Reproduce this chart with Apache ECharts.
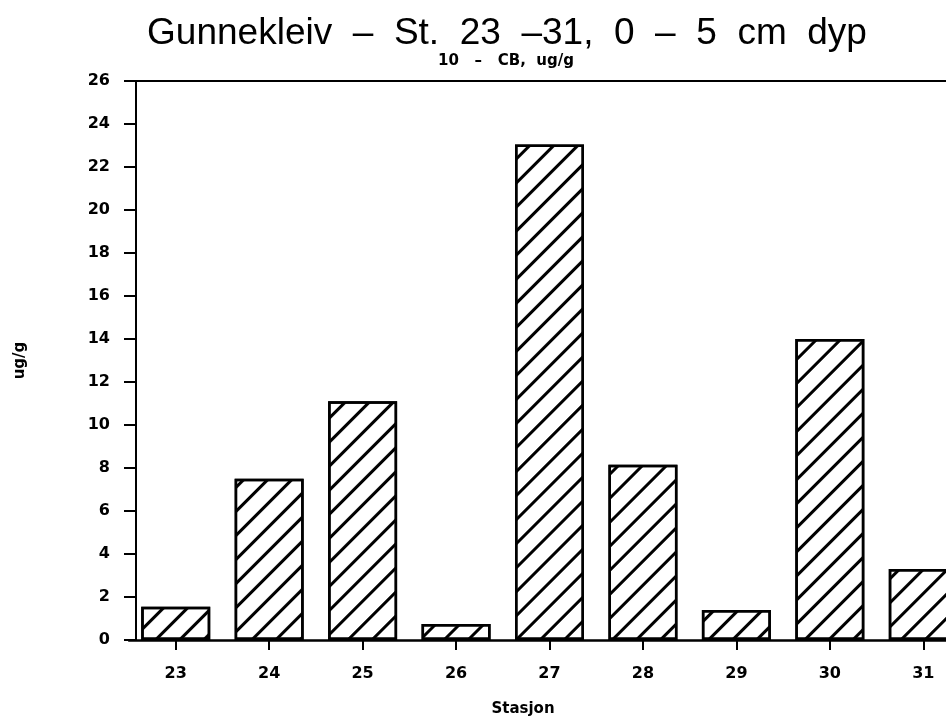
<!DOCTYPE html>
<html>
<head>
<meta charset="utf-8">
<script src="https://cdn.jsdelivr.net/npm/echarts@6/dist/echarts.min.js"></script>
<style>
  html, body { margin: 0; padding: 0; background: #ffffff; }
  #chart { width: 946px; height: 717px; }
</style>
</head>
<body>
<div id="chart"></div>
<script>
// Stations along the x axis and the measured 10-CB concentration (ug/g) at 0-5 cm depth
const stations = ['23', '24', '25', '26', '27', '28', '29', '30', '31'];
const cbValues = [1.55, 7.5, 11.1, 0.75, 23.05, 8.15, 1.4, 14.0, 3.3];

// Value axis range and step
const yMin = 0;
const yMax = 26;
const yStep = 2;

const mainTitle = 'Gunnekleiv  –  St.  23  –31,  0  –  5  cm  dyp';
const subTitle = '10   –   CB,  ug/g';
const xName = 'Stasjon';
const yName = 'ug/g';

const ink = '#000000';
const labelFont = { color: ink, fontFamily: 'DejaVu Sans', fontWeight: 'bold', fontSize: 16 };

const chart = echarts.init(document.getElementById('chart'), null, { renderer: 'canvas' });

chart.setOption({
  backgroundColor: '#ffffff',
  animation: false,
  title: [
    {
      text: mainTitle,
      left: 502, top: 10, textAlign: 'center',
      textStyle: { color: ink, fontFamily: 'Liberation Sans', fontWeight: 'normal', fontSize: 37 }
    },
    {
      text: subTitle,
      left: 501, top: 49, textAlign: 'center',
      textStyle: { color: ink, fontFamily: 'DejaVu Sans', fontWeight: 'bold', fontSize: 15 }
    },
    {
      text: xName,
      left: 518, top: 697, textAlign: 'center',
      textStyle: { color: ink, fontFamily: 'DejaVu Sans', fontWeight: 'bold', fontSize: 15 }
    }
  ],
  // the plot runs past the right edge of the page, so the last bar is cut
  grid: { left: 129, right: -24, top: 81, bottom: 77, outerBoundsMode: 'none', containLabel: false },
  xAxis: [
    {
      type: 'category',
      data: stations,
      boundaryGap: true,
      axisLine: { show: true, lineStyle: { color: ink, width: 2.5 } },
      axisTick: { show: true, alignWithLabel: true, length: 10, lineStyle: { color: ink, width: 2 } },
      axisLabel: Object.assign({ margin: 26 }, labelFont),
      splitLine: { show: false }
    },
    {
      // frame line along the top of the plot
      type: 'category',
      position: 'top',
      data: stations,
      axisLine: { show: true, lineStyle: { color: ink, width: 2 } },
      axisTick: { show: false },
      axisLabel: { show: false },
      splitLine: { show: false }
    }
  ],
  yAxis: {
    type: 'value',
    min: yMin, max: yMax, interval: yStep,
    offset: -7,
    name: yName,
    nameLocation: 'middle',
    nameRotate: 90,
    nameGap: 108,
    nameTextStyle: { color: ink, fontFamily: 'DejaVu Sans', fontWeight: 'bold', fontSize: 15 },
    axisLine: { show: true, lineStyle: { color: ink, width: 2 } },
    axisTick: { show: true, length: 12, lineStyle: { color: ink, width: 2 } },
    axisLabel: Object.assign({ margin: 26 }, labelFont),
    splitLine: { show: false }
  },
  series: [
    {
      type: 'bar',
      data: cbValues,
      barWidth: 69,
      itemStyle: {
        color: '#ffffff',
        borderColor: ink,
        borderWidth: 2.5,
        decal: {
          symbol: 'rect',
          symbolSize: 1,
          color: ink,
          backgroundColor: 'rgba(0,0,0,0)',
          dashArrayX: [1, 0],
          dashArrayY: [2.2, 13.4],
          rotation: -Math.PI / 4
        }
      }
    }
  ]
});
</script>
</body>
</html>
